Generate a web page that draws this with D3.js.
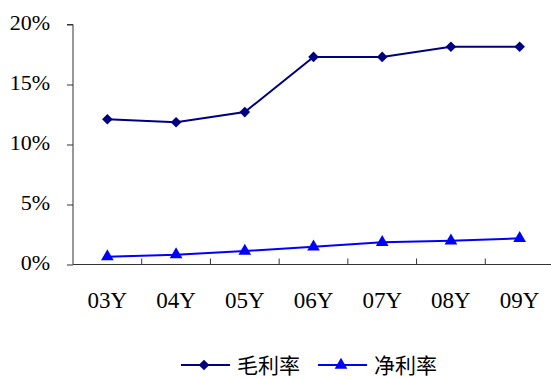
<!DOCTYPE html>
<html lang="zh">
  <head>
    <meta charset="utf-8">
    <title>毛利率 / 净利率</title>
    <script src="https://cdnjs.cloudflare.com/ajax/libs/d3/7.8.5/d3.min.js"></script>
    <style type="text/css">
      body { margin: 0; background: #fff; }
      .tick text { font-family: 'Liberation Serif', 'Times New Roman', serif; font-size: 22px; fill: #000; }
      .x .tick text { font-size: 23px; }
      .legend text { font-family: 'Noto Sans CJK SC', sans-serif; font-size: 21px; fill: #000; }
    </style>
  </head>
  <body>
    <svg id="chart"></svg>
    <script type="text/javascript">
var years = ["03Y", "04Y", "05Y", "06Y", "07Y", "08Y", "09Y"];
var grossMargin = [12.1, 11.85, 12.7, 17.3, 17.3, 18.15, 18.15];
var netMargin = [0.65, 0.82, 1.12, 1.48, 1.85, 1.98, 2.18];
var yTicks = [0, 5, 10, 15, 20];
var seriesNames = ["毛利率", "净利率"];

var w = 551, h = 378;
var padLeft = 73, padRight = 554, padTop = 24.5, padBottom = 264.5;

var svg = d3.select("#chart").attr("width", w).attr("height", h);

var xScale = d3.scaleBand().domain(years).range([padLeft, padRight]);
var yScale = d3.scaleLinear().domain([0, 20]).range([padBottom, padTop]);

// y axis
var yAxis = d3.axisLeft(yScale).tickValues(yTicks)
  .tickFormat(function(d) { return d + "%"; })
  .tickSize(6).tickPadding(17);
var gy = svg.append("g").attr("transform", "translate(" + padLeft + ",0)").call(yAxis);
gy.select(".domain").attr("stroke", "#333").attr("d", "M-6," + padTop + "H0V" + padBottom);
gy.selectAll(".tick line").attr("stroke", "#333");
gy.selectAll(".tick text").attr("dy", "0.22em");

// x axis
var xAxis = d3.axisBottom(xScale).tickSize(0).tickPadding(27);
var gx = svg.append("g").attr("class", "x").attr("transform", "translate(0," + padBottom + ")").call(xAxis);
gx.select(".domain").attr("stroke", "#333").attr("d", "M" + padLeft + ",0H" + padRight);
gx.selectAll(".tick text").attr("dy", "0.71em");
// tick marks between categories
gx.selectAll(".sep").data(years.slice(1)).enter().append("line")
  .attr("x1", function(d) { return xScale(d); })
  .attr("x2", function(d) { return xScale(d); })
  .attr("y1", 0).attr("y2", -6)
  .attr("stroke", "#333");

var cx = function(d, i) { return xScale(years[i]) + xScale.bandwidth() / 2; };

var line = d3.line()
  .x(function(d, i) { return cx(d, i); })
  .y(function(d) { return yScale(d); });

var diamond = d3.symbol().type(d3.symbolDiamond2).size(72);
var triangle = d3.symbol().type(d3.symbolTriangle).size(70);

function drawSeries(values, color, symbol) {
  svg.append("path").datum(values)
    .attr("fill", "none")
    .attr("stroke", color)
    .attr("stroke-width", 2)
    .attr("d", line);
  svg.selectAll(null).data(values).enter().append("path")
    .attr("d", symbol)
    .attr("fill", color)
    .attr("transform", function(d, i) { return "translate(" + cx(d, i) + "," + yScale(d) + ")"; });
}

drawSeries(grossMargin, "#000080", diamond);
drawSeries(netMargin, "#0000ff", triangle);

// legend
var legend = svg.append("g").attr("class", "legend");
var items = [
  { name: seriesNames[0], color: "#000080", symbol: diamond, x: 181 },
  { name: seriesNames[1], color: "#0000ff", symbol: triangle, x: 318 }
];
items.forEach(function(it) {
  var ly = 365;
  legend.append("line")
    .attr("x1", it.x).attr("x2", it.x + 49)
    .attr("y1", ly).attr("y2", ly)
    .attr("stroke", it.color).attr("stroke-width", 2);
  legend.append("path")
    .attr("d", it.symbol)
    .attr("fill", it.color)
    .attr("transform", "translate(" + (it.x + 23) + "," + ly + ")");
  legend.append("text")
    .attr("x", it.x + 56).attr("y", ly + 8)
    .text(it.name);
});
    </script>
  </body>
</html>
